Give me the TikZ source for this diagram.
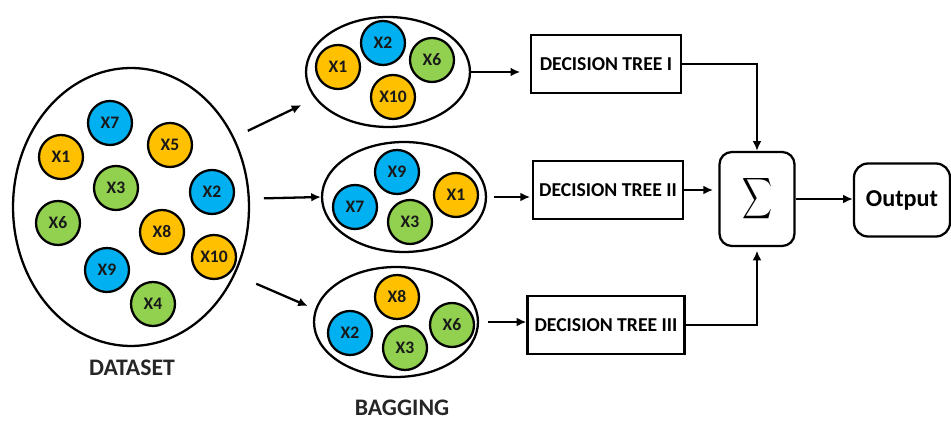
\documentclass[tikz,border=0pt]{standalone}
\usepackage{fontspec}
\setmainfont{Carlito}
\usepackage{amsmath}
\usepackage{tikz}
\usetikzlibrary{shapes.geometric,arrows.meta}

\definecolor{gold}{HTML}{FFC000}
\definecolor{sky}{HTML}{00B0F0}
\definecolor{leaf}{HTML}{92D050}

\tikzset{
  ball/.style={circle,draw,line width=1.3pt,minimum size=0.88cm,inner sep=0pt,
    text=black!90,font=\bfseries\fontsize{10}{11}\selectfont},
  gball/.style={ball,fill=gold},
  bball/.style={ball,fill=sky},
  lball/.style={ball,fill=leaf},
  bag/.style={ellipse,draw,line width=1.3pt,minimum width=3.28cm,minimum height=2.2cm},
  tree/.style={draw,line width=1.3pt,minimum width=3cm,minimum height=1.16cm,inner sep=1pt,
    font=\bfseries\fontsize{11.2}{12}\selectfont},
  title/.style={font=\bfseries\fontsize{13.5}{15}\selectfont,text=black!85},
  arr/.style={-{Latex[length=5.5pt,width=5pt]},line width=1.3pt}
}

\begin{document}
\begin{tikzpicture}[x=0.02cm,y=-0.02cm]
        \useasboundingbox (0,0) rectangle (951,421);
        % the whole dataset
        \node[ellipse,draw,line width=1.3pt,minimum width=4.72cm,minimum height=5.56cm] (data) at (131,207) {};
        \node[bball] (dx7) at (110,123) {X7};
        \node[gball] (dx1) at (61,157) {X1};
        \node[gball] (dx5) at (170,145) {X5};
        \node[lball] (dx3) at (116,188) {X3};
        \node[bball] (dx2) at (212,192) {X2};
        \node[lball] (dx6) at (58,223) {X6};
        \node[gball] (dx8) at (162,232) {X8};
        \node[gball] (dx10) at (214,257) {X10};
        \node[bball] (dx9) at (107,270) {X9};
        \node[lball] (dx4) at (153,304) {X4};
        \node[title] (dlabel) at (132,368) {DATASET};
        % bag one
        \node[bag] (bag1) at (388,72) {};
        \node[gball] (ax1) at (338,67) {X1};
        \node[bball] (ax2) at (383,43) {X2};
        \node[lball] (ax6) at (432,60) {X6};
        \node[gball] (ax10) at (393,97) {X10};
        % bag two
        \node[bag] (bag2) at (404,197) {};
        \node[bball] (bx9) at (397,172) {X9};
        \node[bball] (bx7) at (355,207) {X7};
        \node[lball] (bx3) at (410,222) {X3};
        \node[gball] (bx1) at (456,195) {X1};
        % bag three
        \node[bag] (bag3) at (396,322) {};
        \node[gball] (cx8) at (397,297) {X8};
        \node[bball] (cx2) at (350,333) {X2};
        \node[lball] (cx3) at (405,348) {X3};
        \node[lball] (cx6) at (452,325) {X6};
        \node[title] (blabel) at (402,408) {BAGGING};
        % the trees
        \node[tree] (tree1) at (606,64) {DECISION TREE I};
        \node[tree] (tree2) at (608,190) {DECISION TREE II};
        \node[tree,minimum width=3.14cm] (tree3) at (606,325) {DECISION TREE III};
        \node[draw,line width=1.3pt,rounded corners=7pt,minimum width=1.5cm,minimum height=1.88cm] (sum) at (757,199)
          {\resizebox*{0.6cm}{0.92cm}{$\displaystyle\sum$}};
        \node[draw,line width=1.3pt,rounded corners=8pt,minimum width=1.92cm,minimum height=1.46cm,
          font=\bfseries\fontsize{13.8}{15}\selectfont] (out) at (902,200) {Output};
        % sampling arrows
        \draw[arr,shorten <=8.5pt,shorten >=8.5pt] (data.34) -- (bag1.200);
        \draw[arr,shorten <=8pt] (data.4) -- (bag2.west);
        \draw[arr,shorten <=13pt,shorten >=4.5pt] (data.-33) -- (bag3.171);
        \draw[arr,shorten >=5.5pt] (bag1.east) -- (bag1.east -| tree1.west);
        \draw[arr,shorten <=4pt,shorten >=1pt] (bag2.east) -- (bag2.east -| tree2.west);
        \draw[arr,shorten <=5pt] (bag3.east) -- (bag3.east -| tree3.west);
        % into the sum
        \draw[arr] (tree1.east) -| (sum.north);
        \draw[arr,shorten >=3pt] (tree2.east) -- (tree2.east -| sum.west);
        \draw[arr,shorten >=2pt] (tree3.east) -| (sum.south);
        \draw[arr] (sum.east) -- (sum.east -| out.west);
      \end{tikzpicture}
\end{document}
